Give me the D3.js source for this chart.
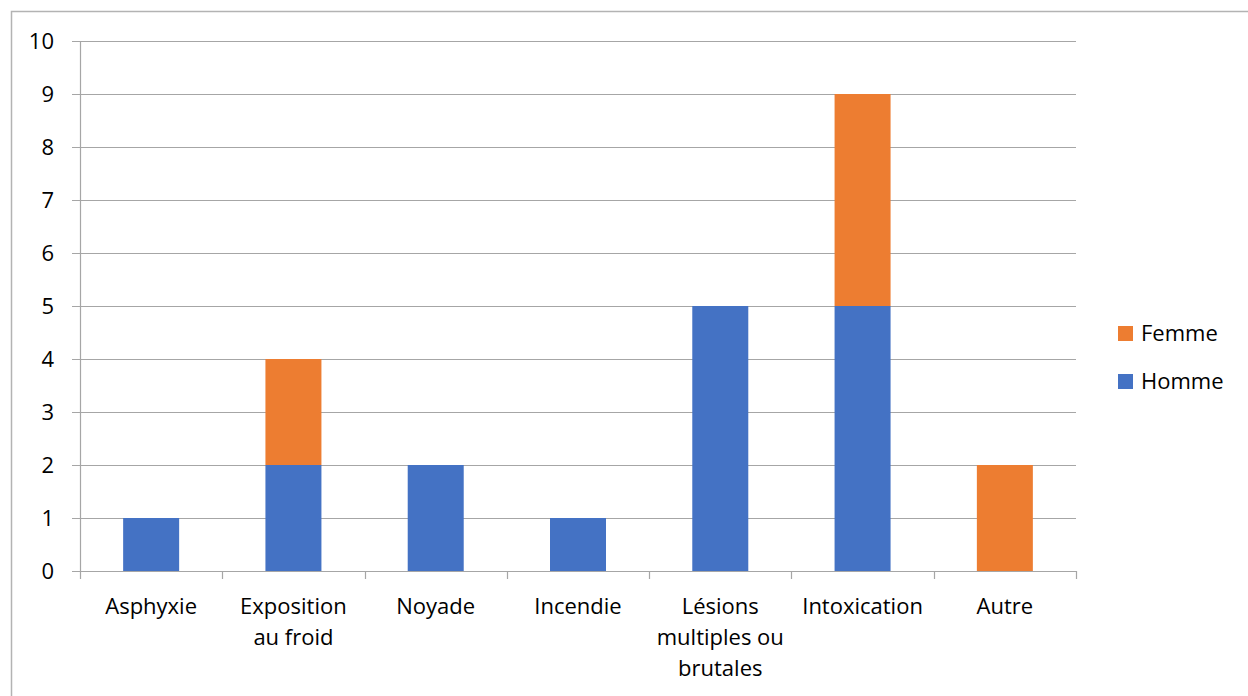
<!DOCTYPE html>
<html>
<head>
<meta charset="utf-8">
<script src="https://cdn.jsdelivr.net/npm/d3@7"></script>
<style>
  html, body { margin: 0; padding: 0; background: #fff; }
  svg { display: block; font-family: "Open Sans", "Noto Sans", sans-serif; }
</style>
</head>
<body>
<svg id="chart" width="1248" height="696"></svg>
<script>
// Causes of death, split by sex
const categories = [
  ["Asphyxie"],
  ["Exposition", "au froid"],
  ["Noyade"],
  ["Incendie"],
  ["Lésions", "multiples ou", "brutales"],
  ["Intoxication"],
  ["Autre"]
];
const homme = [1, 2, 2, 1, 5, 5, 0];
const femme = [0, 2, 0, 0, 0, 4, 2];
const seriesNames = ["Homme", "Femme"];
const seriesColors = ["#4472C4", "#ED7D31"];
const yTicks = [0, 1, 2, 3, 4, 5, 6, 7, 8, 9, 10];

const svg = d3.select("#chart");
const W = 1248, H = 696;
const plot = { left: 80, right: 1076, top: 41, bottom: 571 };
const fontSize = 22;

// outer chart frame
svg.append("rect")
  .attr("x", 11.5).attr("y", 11.5)
  .attr("width", W + 20).attr("height", H + 20)
  .attr("fill", "none").attr("stroke", "#b3b3b3").attr("stroke-width", 1.5);

const x = d3.scaleBand()
  .domain(d3.range(categories.length))
  .range([plot.left, plot.right])
  .paddingInner(0).paddingOuter(0);

const y = d3.scaleLinear().domain([0, 10]).range([plot.bottom, plot.top]);

// horizontal gridlines (with short tick stubs to the left)
svg.append("g")
  .selectAll("line")
  .data(yTicks)
  .join("line")
  .attr("x1", plot.left - 8).attr("x2", plot.right)
  .attr("y1", d => Math.round(y(d)) + 0.5).attr("y2", d => Math.round(y(d)) + 0.5)
  .attr("stroke", "#a6a6a6").attr("stroke-width", 1.2);

// y tick labels
svg.append("g")
  .selectAll("text")
  .data(yTicks)
  .join("text")
  .attr("x", 54).attr("y", d => y(d))
  .attr("dy", "0.35em")
  .attr("text-anchor", "end")
  .attr("font-size", fontSize)
  .attr("fill", "#000")
  .text(d => d);

// vertical axis line
svg.append("line")
  .attr("x1", plot.left + 0.5).attr("x2", plot.left + 0.5)
  .attr("y1", plot.top).attr("y2", plot.bottom + 8)
  .attr("stroke", "#a6a6a6").attr("stroke-width", 1.2);

// category boundary ticks on the x axis
svg.append("g")
  .selectAll("line")
  .data(d3.range(1, categories.length + 1))
  .join("line")
  .attr("x1", i => Math.round(plot.left + i * x.bandwidth()) + 0.5)
  .attr("x2", i => Math.round(plot.left + i * x.bandwidth()) + 0.5)
  .attr("y1", plot.bottom).attr("y2", plot.bottom + 8)
  .attr("stroke", "#a6a6a6").attr("stroke-width", 1.2);

// stacked bars
const rows = categories.map((c, i) => ({ i, Homme: homme[i], Femme: femme[i] }));
const stacked = d3.stack().keys(seriesNames)(rows);
const barW = 56;

svg.append("g")
  .selectAll("g")
  .data(stacked)
  .join("g")
  .attr("fill", (d, k) => seriesColors[k])
  .selectAll("rect")
  .data(d => d.filter(v => v[1] > v[0]))
  .join("rect")
  .attr("x", d => x(d.data.i) + x.bandwidth() / 2 - barW / 2)
  .attr("y", d => y(d[1]))
  .attr("width", barW)
  .attr("height", d => y(d[0]) - y(d[1]));

// redraw baseline on top of bars
svg.append("line")
  .attr("x1", plot.left - 8).attr("x2", plot.right)
  .attr("y1", Math.round(y(0)) + 0.5).attr("y2", Math.round(y(0)) + 0.5)
  .attr("stroke", "#a6a6a6").attr("stroke-width", 1.2);

// category labels
const labels = svg.append("g")
  .selectAll("text")
  .data(categories)
  .join("text")
  .attr("x", (d, i) => x(i) + x.bandwidth() / 2)
  .attr("y", 606)
  .attr("text-anchor", "middle")
  .attr("font-size", fontSize)
  .attr("fill", "#000");
labels.selectAll("tspan")
  .data(d => d)
  .join("tspan")
  .attr("x", function () { return this.parentNode.getAttribute("x"); })
  .attr("dy", (d, j) => j === 0 ? "0.35em" : "31")
  .text(d => d);

// legend (Femme on top)
const legendItems = [
  { name: "Femme", color: seriesColors[1], cy: 333 },
  { name: "Homme", color: seriesColors[0], cy: 381 }
];
const lg = svg.append("g")
  .selectAll("g")
  .data(legendItems)
  .join("g");
lg.append("rect")
  .attr("x", 1118).attr("y", d => d.cy - 7)
  .attr("width", 15).attr("height", 15)
  .attr("fill", d => d.color);
lg.append("text")
  .attr("x", 1141).attr("y", d => d.cy)
  .attr("dy", "0.35em")
  .attr("font-size", fontSize)
  .attr("fill", "#000")
  .text(d => d.name);
</script>
</body>
</html>
